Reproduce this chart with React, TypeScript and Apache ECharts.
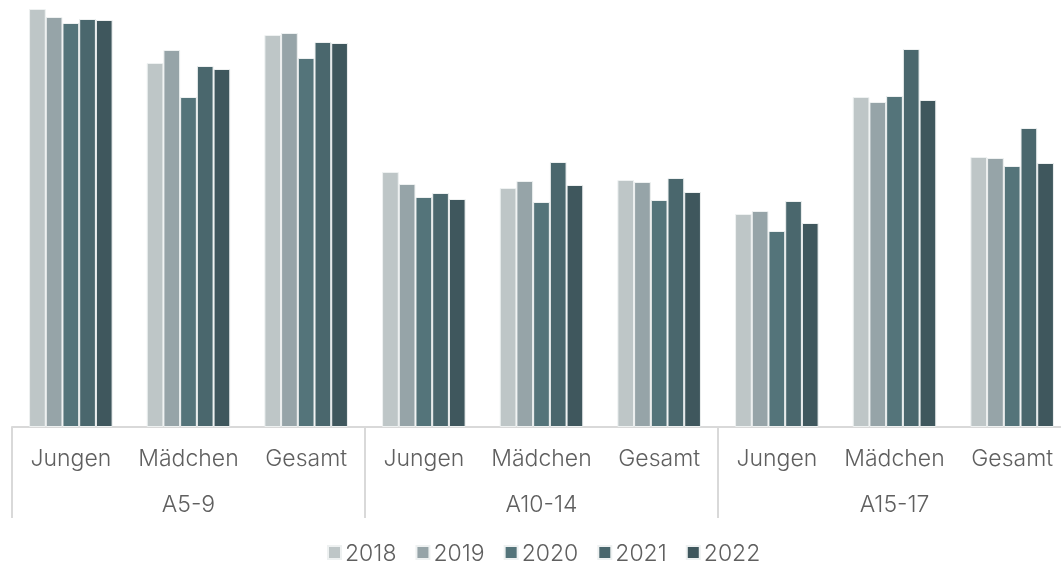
import React, { useEffect, useRef } from "react";
import * as echarts from "echarts";

const subCategories = ["Jungen", "Mädchen", "Gesamt", "Jungen", "Mädchen", "Gesamt", "Jungen", "Mädchen", "Gesamt"];
const groups = ["A5-9", "A10-14", "A15-17"];
const years = ["2018", "2019", "2020", "2021", "2022"];

const v2018 = [41.8, 36.4, 39.2, 25.5, 23.9, 24.7, 21.3, 33.0, 27.0];
const v2019 = [41.0, 37.7, 39.4, 24.3, 24.6, 24.5, 21.6, 32.5, 26.9];
const v2020 = [40.4, 33.0, 36.9, 23.0, 22.5, 22.7, 19.6, 33.1, 26.1];
const v2021 = [40.8, 36.1, 38.5, 23.4, 26.5, 24.9, 22.6, 37.8, 29.9];
const v2022 = [40.7, 35.8, 38.4, 22.8, 24.2, 23.5, 20.4, 32.7, 26.4];
const seriesValues = [v2018, v2019, v2020, v2021, v2022];
const colors = ["#bec6c7", "#96a4a8", "#54747a", "#4a676d", "#3f575d"];

export default function App() {
  const ref = useRef<HTMLDivElement>(null);
  useEffect(() => {
    if (!ref.current) return;
    const chart = echarts.init(ref.current, undefined, { renderer: "svg" });
    const font = "Inter";
    chart.setOption({
      animation: false,
      textStyle: { fontFamily: font },
      legend: {
        bottom: -3,
        left: 322,
        itemWidth: 13,
        itemHeight: 13,
        itemGap: 19,
        icon: "rect",
        textStyle: { fontSize: 23, color: "#5f5f5f", fontFamily: font, fontWeight: 300, padding: [0, 0, 0, -1] },
        data: years,
      },
      grid: { left: 12, right: -10, top: 0, height: 427, containLabel: false, outerBoundsMode: "none" },
      xAxis: [
        {
          type: "category",
          data: subCategories,
          position: "bottom",
          axisLine: { show: true, lineStyle: { color: "#d9d9d9", width: 2 } },
          axisTick: { show: false },
          axisLabel: { interval: 0, fontSize: 23, color: "#5f5f5f", margin: 19, fontFamily: font, fontWeight: 300 },
        },
        {
          type: "category",
          data: groups,
          position: "bottom",
          axisLine: { show: false },
          axisTick: { show: true, length: 91, lineStyle: { color: "#d9d9d9", width: 2 } },
          axisLabel: { interval: 0, fontSize: 23, color: "#5f5f5f", margin: 65, fontFamily: font, fontWeight: 300 },
        },
      ],
      yAxis: {
        type: "value",
        min: 0,
        max: 42.7,
        show: false,
        splitLine: { show: false },
      },
      series: years.map((y, i) => ({
        name: y,
        type: "bar",
        xAxisIndex: 0,
        data: seriesValues[i],
        barGap: "0%",
        barCategoryGap: "29%",
        itemStyle: { color: colors[i], borderColor: "#eef1f1", borderWidth: 1 },
      })),
    });
    return () => chart.dispose();
  }, []);
  return <div ref={ref} style={{ position: "fixed", left: 0, top: 0, width: 1061, height: 566 }} />;
}
